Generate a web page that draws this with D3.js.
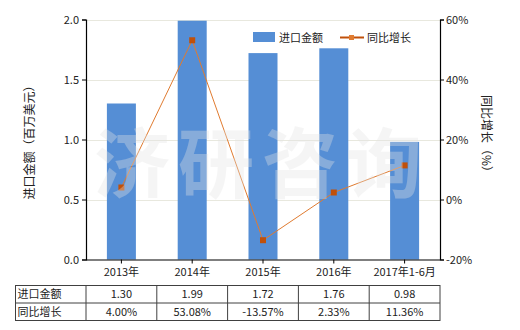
<!DOCTYPE html>
<html>
<head>
<meta charset="utf-8">
<script src="https://cdn.jsdelivr.net/npm/d3@7"></script>
<style>
body { margin: 0; background: #fff; }
text { font-family: "Noto Sans CJK SC", "DejaVu Sans", sans-serif; fill: #222; }
</style>
</head>
<body>
<script>
var categories = ["2013年", "2014年", "2015年", "2016年", "2017年1-6月"];
var importValues = [1.30, 1.99, 1.72, 1.76, 0.98];
var growthValues = [4.00, 53.08, -13.57, 2.33, 11.36];
var leftTicks = [0, 0.5, 1.0, 1.5, 2.0];
var rightTicks = [-20, 0, 20, 40, 60];
var importLabels = ["1.30", "1.99", "1.72", "1.76", "0.98"];
var growthLabels = ["4.00%", "53.08%", "-13.57%", "2.33%", "11.36%"];

var W = 520, H = 330;
var pLeft = 86, pRight = 440, pTop = 19.5, pBottom = 259.5;
var barColor = "#558ed5", lineColor = "#e07b30", markColor = "#c0500a";

var svg = d3.select("body").append("svg").attr("width", W).attr("height", H);

var x = d3.scaleBand().domain(categories).range([pLeft, pRight]);
var y = d3.scaleLinear().domain([0, 2]).range([pBottom, pTop]);
var y2 = d3.scaleLinear().domain([-20, 60]).range([pBottom, pTop]);

// gridlines
svg.append("g").selectAll("line")
  .data(leftTicks.filter(function(d) { return d > 0; }))
  .enter().append("line")
  .attr("x1", pLeft).attr("x2", pRight)
  .attr("y1", function(d) { return Math.round(y(d)) + 0.5; })
  .attr("y2", function(d) { return Math.round(y(d)) + 0.5; })
  .attr("stroke", "#e8e8de").attr("stroke-width", 1);

// bars
var bw = 29;
svg.append("g").selectAll("rect")
  .data(importValues)
  .enter().append("rect")
  .attr("x", function(d, i) { return x(categories[i]) + x.bandwidth() / 2 - bw / 2; })
  .attr("y", function(d) { return y(d); })
  .attr("width", bw)
  .attr("height", function(d) { return pBottom - y(d); })
  .attr("fill", barColor);

// growth line
var line = d3.line()
  .x(function(d, i) { return x(categories[i]) + x.bandwidth() / 2; })
  .y(function(d) { return y2(d); });
svg.append("path").datum(growthValues)
  .attr("d", line).attr("fill", "none")
  .attr("stroke", lineColor).attr("stroke-width", 1);
svg.append("g").selectAll("rect")
  .data(growthValues)
  .enter().append("rect")
  .attr("x", function(d, i) { return x(categories[i]) + x.bandwidth() / 2 - 3; })
  .attr("y", function(d) { return y2(d) - 3; })
  .attr("width", 6).attr("height", 6)
  .attr("fill", markColor);

// watermark (on top)
svg.append("text")
  .attr("x", 94).attr("y", 192)
  .style("font-size", "76px").style("font-weight", "bold")
  .style("letter-spacing", "8px")
  .style("fill", "#e4e4e4").style("opacity", 0.35)
  .text("济研咨询");

// axes
var yAxis = d3.axisLeft(y).tickValues(leftTicks).tickFormat(d3.format(".1f")).tickSize(4).tickPadding(3);
var gy = svg.append("g").attr("transform", "translate(" + pLeft + ",0)").call(yAxis);
var y2Axis = d3.axisRight(y2).tickValues(rightTicks).tickFormat(function(d) { return d + "%"; }).tickSize(4).tickPadding(2);
var gy2 = svg.append("g").attr("transform", "translate(" + pRight + ",0)").call(y2Axis);
var xAxis = d3.axisBottom(x).tickSize(4).tickPadding(5);
var gx = svg.append("g").attr("transform", "translate(0," + pBottom + ")").call(xAxis);
[gy, gy2, gx].forEach(function(g) {
  g.select(".domain").attr("stroke", "#000").attr("stroke-width", 1.2);
  g.selectAll(".tick line").attr("stroke", "#000");
  g.selectAll(".tick text").style("font-size", "11px").style("fill", "#222")
    .style("font-family", "'Noto Sans CJK SC', 'DejaVu Sans', sans-serif");
});
gx.select(".domain").attr("d", "M" + pLeft + ",0.5H" + pRight);

// axis titles
svg.append("text")
  .attr("transform", "translate(34," + ((pTop + pBottom) / 2) + ") rotate(-90)")
  .attr("text-anchor", "middle").style("font-size", "12px")
  .text("进口金额（百万美元）");
svg.append("text")
  .attr("transform", "translate(482," + ((pTop + pBottom) / 2 - 3) + ") rotate(90)")
  .attr("text-anchor", "middle").style("font-size", "12px")
  .text("同比增长（%）");

// legend
svg.append("rect").attr("x", 253).attr("y", 32).attr("width", 22).attr("height", 10).attr("fill", barColor);
svg.append("text").attr("x", 279).attr("y", 41.5).style("font-size", "11px").text("进口金额");
svg.append("line").attr("x1", 340).attr("x2", 364).attr("y1", 37.5).attr("y2", 37.5)
  .attr("stroke", markColor).attr("stroke-width", 2);
svg.append("rect").attr("x", 349).attr("y", 35).attr("width", 5).attr("height", 5).attr("fill", "#e07b30");
svg.append("text").attr("x", 367).attr("y", 41.5).style("font-size", "11px").text("同比增长");

// table
var tTop = 285.5, rowH = 17.5, tLeft = 15.5;
var rows = [["进口金额", importLabels], ["同比增长", growthLabels]];
var tbl = svg.append("g");
tbl.append("rect").attr("x", tLeft).attr("y", tTop)
  .attr("width", pRight - tLeft).attr("height", rowH * 2)
  .attr("fill", "none").attr("stroke", "#404040");
tbl.append("line").attr("x1", tLeft).attr("x2", pRight)
  .attr("y1", tTop + rowH).attr("y2", tTop + rowH).attr("stroke", "#404040");
categories.forEach(function(c) {
  tbl.append("line").attr("x1", x(c)).attr("x2", x(c))
    .attr("y1", tTop).attr("y2", tTop + rowH * 2).attr("stroke", "#404040");
});
rows.forEach(function(r, ri) {
  var cy = tTop + rowH * ri + rowH / 2 + 4;
  tbl.append("text").attr("x", tLeft + 2).attr("y", cy).style("font-size", "11px").text(r[0]);
  r[1].forEach(function(v, i) {
    tbl.append("text").attr("x", x(categories[i]) + x.bandwidth() / 2).attr("y", cy)
      .attr("text-anchor", "middle").style("font-size", "11px").text(v);
  });
});
</script>
</body>
</html>
